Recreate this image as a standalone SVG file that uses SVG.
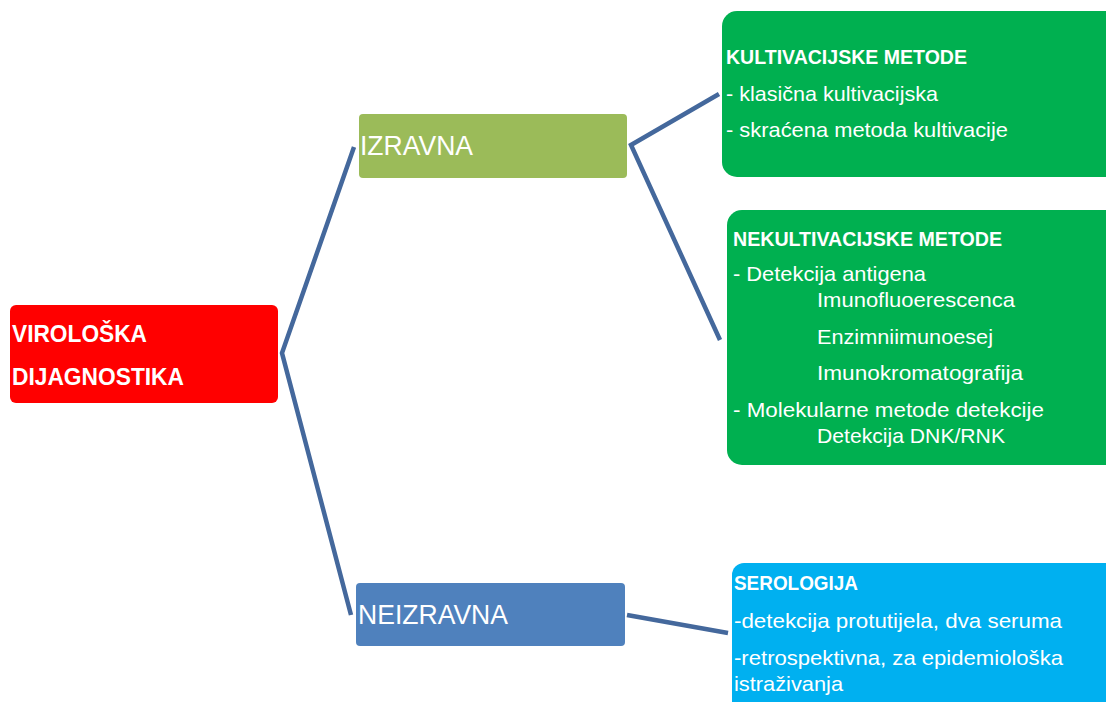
<svg xmlns="http://www.w3.org/2000/svg" width="1106" height="702" viewBox="0 0 1106 702">
<style>
text{font-family:"Liberation Sans",Arial,sans-serif;fill:#fff}
.b{font-weight:bold}
.t{font-size:21px}
.h{font-size:20px;font-weight:bold}
.big{font-size:28px}
.c{fill:none;stroke:#44689c;stroke-width:4.5;stroke-linejoin:miter}
</style>
<rect width="1106" height="702" fill="#fff"/>
<g id="connectors">
<polyline class="c" points="354,147 282,353 351,615"/>
<polyline class="c" points="719,94 631,145 720,340"/>
<line class="c" x1="627" y1="615" x2="728" y2="633"/>
</g>
<g id="virologska">
<rect x="10" y="305" width="268" height="98" rx="6" fill="#ff0000"/>
<text x="12" y="342" class="b" font-size="23" textLength="135" lengthAdjust="spacingAndGlyphs">VIROLOŠKA</text>
<text x="12" y="385" class="b" font-size="23" textLength="172" lengthAdjust="spacingAndGlyphs">DIJAGNOSTIKA</text>
</g>
<g id="izravna">
<rect x="359" y="114" width="268" height="64" rx="4" fill="#9bbb59"/>
<text x="360" y="155" class="big" textLength="113" lengthAdjust="spacingAndGlyphs">IZRAVNA</text>
</g>
<g id="neizravna">
<rect x="356" y="583" width="269" height="63" rx="4" fill="#4f81bd"/>
<text x="358" y="624" class="big" textLength="150" lengthAdjust="spacingAndGlyphs">NEIZRAVNA</text>
</g>
<g id="kultivacijske">
<rect x="722" y="11" width="400" height="166" rx="15" fill="#00b050"/>
<text x="726" y="64" class="h" textLength="241" lengthAdjust="spacingAndGlyphs">KULTIVACIJSKE METODE</text>
<text x="726" y="101" class="t" textLength="212" lengthAdjust="spacingAndGlyphs">- klasična kultivacijska</text>
<text x="726" y="137" class="t" textLength="282" lengthAdjust="spacingAndGlyphs">- skraćena metoda kultivacije</text>
</g>
<g id="nekultivacijske">
<rect x="727" y="210" width="395" height="255" rx="15" fill="#00b050"/>
<text x="733" y="246" class="h" textLength="269" lengthAdjust="spacingAndGlyphs">NEKULTIVACIJSKE METODE</text>
<text x="733" y="281" class="t" textLength="193" lengthAdjust="spacingAndGlyphs">- Detekcija antigena</text>
<text x="817" y="307" class="t" textLength="198" lengthAdjust="spacingAndGlyphs">Imunofluoerescenca</text>
<text x="817" y="344" class="t" textLength="176" lengthAdjust="spacingAndGlyphs">Enzimniimunoesej</text>
<text x="817" y="380" class="t" textLength="206" lengthAdjust="spacingAndGlyphs">Imunokromatografija</text>
<text x="733" y="417" class="t" textLength="311" lengthAdjust="spacingAndGlyphs">- Molekularne metode detekcije</text>
<text x="817" y="443" class="t" textLength="188" lengthAdjust="spacingAndGlyphs">Detekcija DNK/RNK</text>
</g>
<g id="serologija">
<rect x="732" y="563" width="390" height="160" rx="12" fill="#00b0f0"/>
<text x="734" y="590" class="h" textLength="124" lengthAdjust="spacingAndGlyphs">SEROLOGIJA</text>
<text x="734" y="628" class="t" textLength="328" lengthAdjust="spacingAndGlyphs">-detekcija protutijela, dva seruma</text>
<text x="734" y="665" class="t" textLength="329" lengthAdjust="spacingAndGlyphs">-retrospektivna, za epidemiološka</text>
<text x="734" y="691" class="t" textLength="109" lengthAdjust="spacingAndGlyphs">istraživanja</text>
</g>
</svg>
